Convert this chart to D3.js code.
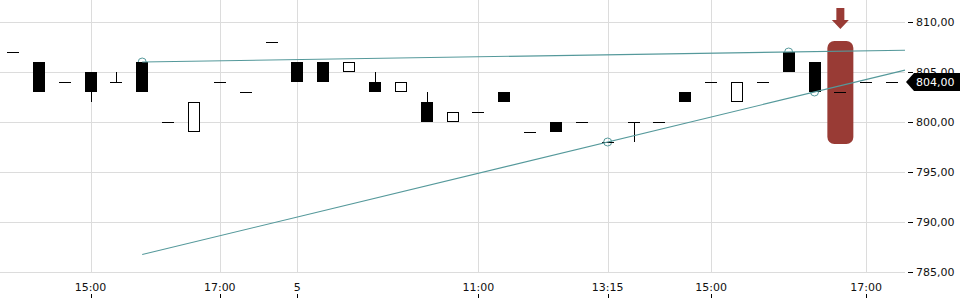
<!DOCTYPE html>
<html><head><meta charset="utf-8">
<script src="https://cdn.jsdelivr.net/npm/d3@7"></script>
<style>
html,body{margin:0;padding:0;background:#fff;}
svg{display:block;font-family:"DejaVu Sans",sans-serif;}
</style></head>
<body>
<svg id="chart" width="960" height="300"></svg>
<script>
// ---- data ----
const openV  = [807,806,804,805,804,806,800,799,804,803,808,806,806,805,804,803,802,800,801,803,799,800,800,798,800,800,803,804,802,804,807,806,803,804,804];
const highV  = [807,806,804,805,805,806,800,802,804,803,808,806,806,806,805,804,803,801,801,803,799,800,800,798,800,800,803,804,804,804,807,806,803,804,804];
const lowV   = [807,803,804,802,804,803,800,799,804,803,808,804,804,805,803,803,800,800,801,802,799,799,800,798,798,800,802,804,802,804,805,803,803,804,804];
const closeV = [807,803,804,803,804,803,800,802,804,803,808,804,804,806,803,804,800,801,801,802,799,799,800,798,800,800,802,804,804,804,805,803,803,804,804];
const tickPositions = [3,8,11,18,23,27,33];
const tickLabels = ["15:00","17:00","5","11:00","13:15","15:00","17:00"];
const yTicks = [785,790,795,800,805,810];
const upperAnchors = [[5,806],[30,807]];
const lowerAnchors = [[23,798],[31,803]];
const trendStart = 5;
const highlightIndex = 32;
const lastPrice = 804;

// ---- layout ----
const W = 960, H = 300, plotW = 905, plotH = 272;
const svg = d3.select("#chart");
const idx = d3.range(openV.length);
const x = d3.scaleBand().domain(idx).range([0, plotW]).padding(0);
const cx = i => x(i) + x.bandwidth()/2;
const xc = d3.scaleLinear().domain([-0.5, openV.length - 0.5]).range([0, plotW]);
const y = d3.scaleLinear().domain([785, 812.2]).range([plotH, 0]);
const fmt = v => d3.format(".2f")(v).replace(".", ",");
const teal = "#55999b", red = "#993b35";

// grid
svg.append("g").selectAll("line").data(yTicks).join("line")
  .attr("x1", 0).attr("x2", plotW)
  .attr("y1", d => Math.round(y(d)) + 0.5).attr("y2", d => Math.round(y(d)) + 0.5)
  .attr("stroke", "#dcdcdc").attr("stroke-width", 1);
svg.append("g").selectAll("line").data(tickPositions).join("line")
  .attr("x1", d => Math.round(cx(d)) + 0.5).attr("x2", d => Math.round(cx(d)) + 0.5)
  .attr("y1", 0).attr("y2", plotH)
  .attr("stroke", "#dcdcdc").attr("stroke-width", 1);

// highlight bar + arrow
const hx = cx(highlightIndex);
svg.append("rect").attr("x", hx - 13).attr("y", 41).attr("width", 26).attr("height", 103)
  .attr("rx", 7).attr("fill", red);
svg.append("path")
  .attr("d", `M${hx-4},8 L${hx+4},8 L${hx+4},20 L${hx+8.5},20 L${hx},29 L${hx-8.5},20 L${hx-4},20 Z`)
  .attr("fill", red);

// pivot circles
const anchors = upperAnchors.concat(lowerAnchors);
svg.append("g").selectAll("circle").data(anchors).join("circle")
  .attr("cx", d => cx(d[0])).attr("cy", d => y(d[1])).attr("r", 4)
  .attr("fill", "none").attr("stroke", teal).attr("stroke-width", 1);

// candles
const g = svg.append("g");
const bw = 12;
idx.forEach(i => {
  const o = openV[i], c = closeV[i], h = highV[i], l = lowV[i];
  const px = Math.round(cx(i));
  const top = Math.max(o, c), bot = Math.min(o, c);
  // wicks
  if (h > top) g.append("line").attr("x1", px + 0.5).attr("x2", px + 0.5)
      .attr("y1", y(h)).attr("y2", y(top)).attr("stroke", "#000");
  if (l < bot) g.append("line").attr("x1", px + 0.5).attr("x2", px + 0.5)
      .attr("y1", y(bot)).attr("y2", y(l)).attr("stroke", "#000");
  if (o === c) {
    g.append("line").attr("x1", px - 6).attr("x2", px + 6)
      .attr("y1", Math.round(y(o)) + 0.5).attr("y2", Math.round(y(o)) + 0.5)
      .attr("stroke", "#000");
  } else if (c < o) {
    g.append("rect").attr("x", px - 6).attr("y", y(top)).attr("width", bw)
      .attr("height", y(bot) - y(top)).attr("fill", "#000");
  } else {
    g.append("rect").attr("x", px - 5.5).attr("y", y(top) + 0.5).attr("width", bw - 1)
      .attr("height", y(bot) - y(top) - 1).attr("fill", "#fff").attr("stroke", "#000");
  }
});

// trend lines
function lineVal(a, t) {
  const [i1, v1] = a[0], [i2, v2] = a[1];
  return v1 + (v2 - v1) * (t - i1) / (i2 - i1);
}
const endT = openV.length - 0.5;
[upperAnchors, lowerAnchors].forEach(a => {
  svg.append("line")
    .attr("x1", xc(trendStart)).attr("y1", y(lineVal(a, trendStart)))
    .attr("x2", xc(endT)).attr("y2", y(lineVal(a, endT)))
    .attr("stroke", teal).attr("stroke-width", 1.1);
});

// right axis
const ya = svg.append("g").attr("transform", `translate(908,0)`)
  .call(d3.axisRight(y).tickValues(yTicks).tickSize(5).tickPadding(3).tickFormat(fmt));
ya.select(".domain").remove();
ya.selectAll("line").attr("stroke", "#000");
ya.selectAll("text").attr("font-size", 11).attr("fill", "#111").attr("font-family", "DejaVu Sans");

// bottom axis
const xa = svg.append("g");
xa.selectAll("text").data(tickPositions).join("text")
  .attr("x", d => cx(d)).attr("y", 291).attr("text-anchor", "middle")
  .attr("font-size", 11).attr("fill", "#111")
  .text((d, k) => tickLabels[k]);
xa.selectAll("line").data(tickPositions).join("line")
  .attr("x1", d => Math.round(cx(d)) + 0.5).attr("x2", d => Math.round(cx(d)) + 0.5)
  .attr("y1", 294).attr("y2", 298).attr("stroke", "#000");

// last price tag
const ly = y(lastPrice);
svg.append("path")
  .attr("d", `M906,${ly} L914,${ly-9} L960,${ly-9} L960,${ly+9} L914,${ly+9} Z`)
  .attr("fill", "#000");
svg.append("text").attr("x", 916).attr("y", ly + 4).attr("font-size", 11)
  .attr("fill", "#fff").text(fmt(lastPrice));
</script>
</body></html>
